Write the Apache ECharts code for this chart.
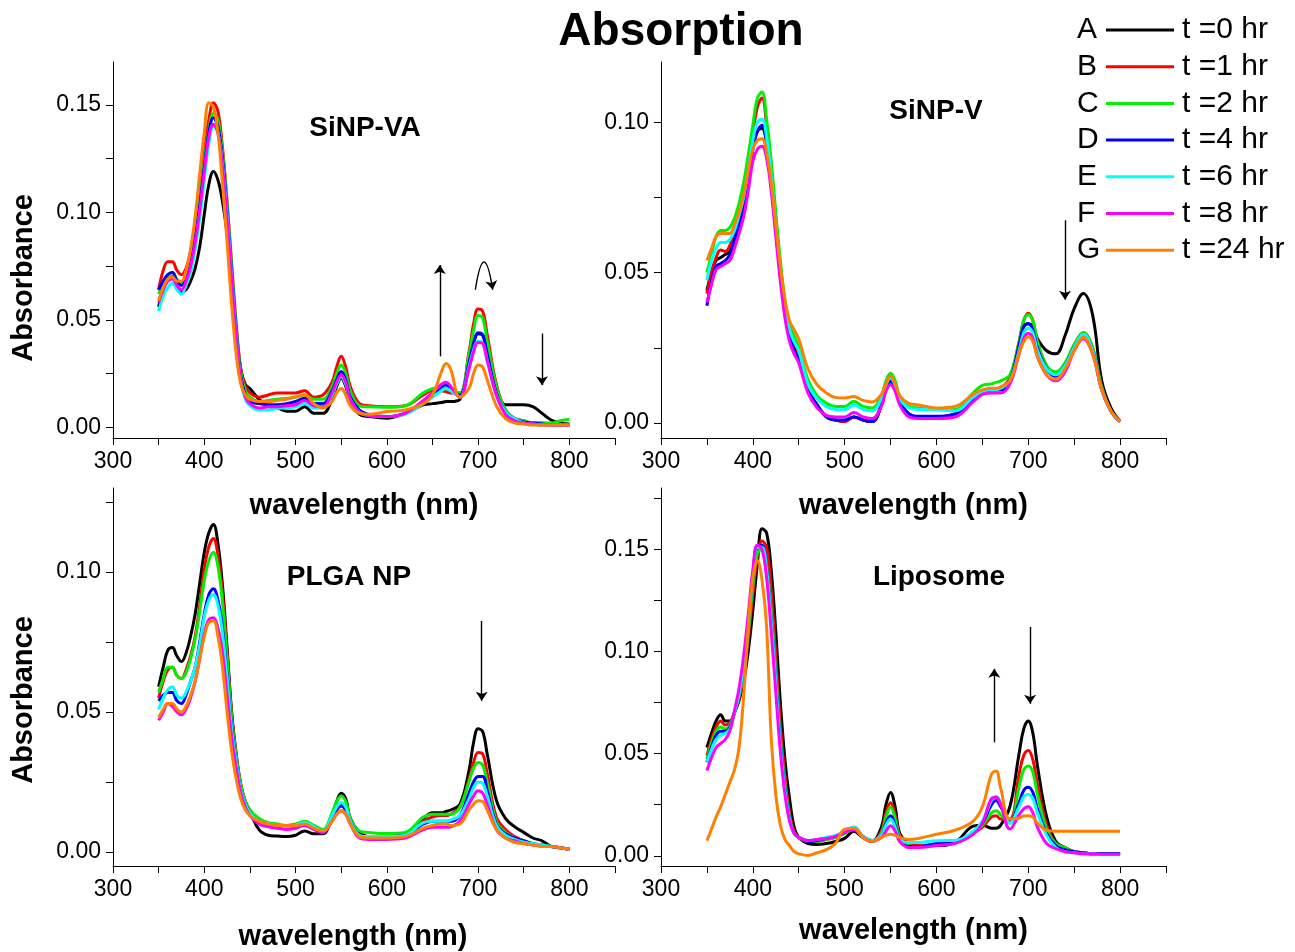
<!DOCTYPE html>
<html>
<head>
<meta charset="utf-8">
<script src="https://cdn.jsdelivr.net/npm/echarts@6/dist/echarts.min.js"></script>
<style>html,body{margin:0;padding:0;background:#fff}#c{width:1295px;height:952px}</style>
</head>
<body>
<div id="c"></div>
<script>
// ---------- data ----------
const WL = [350,355,360,365,370,375,380,385,390,395,400,405,410,415,420,425,430,435,440,445,450,460,470,480,490,500,510,520,530,540,545,550,555,560,570,580,600,620,640,650,660,665,670,680,690,695,700,705,710,720,730,740,750,760,770,780,790,800];

const NAMES = ['t =0 hr','t =1 hr','t =2 hr','t =4 hr','t =6 hr','t =8 hr','t =24 hr'];
const LETTERS = ['A','B','C','D','E','F','G'];
const PANEL_TITLES = ['SiNP-VA','SiNP-V','PLGA NP','Liposome'];

const X_TICKS = [300,350,400,450,500,550,600,650,700,750,800,850];
const X_LABELS = [300,400,500,600,700,800];
const Y_TICKS_1 = [0,0.025,0.05,0.075,0.1,0.125,0.15];
const Y_LABELS_1 = [0,0.05,0.1,0.15];
const Y_TICKS_2 = [0,0.025,0.05,0.075,0.1];
const Y_LABELS_2 = [0,0.05,0.1];
const Y_TICKS_3 = [0,0.025,0.05,0.075,0.1,0.125];
const Y_LABELS_3 = [0,0.05,0.1];
const Y_TICKS_4 = [0,0.025,0.05,0.075,0.1,0.125,0.15,0.175];
const Y_LABELS_4 = [0,0.05,0.1,0.15];

// Panel 1: SiNP-VA
const P1_A = [.056,.064,.069,.070,.066,.063,.064,.068,.074,.084,.099,.113,.119,.115,.105,.090,.068,.045,.027,.020,.018,.013,.010,.009,.0075,.0075,.0096,.0065,.0065,.013,.019,.0228,.019,.012,.006,.005,.0042,.0065,.0104,.011,.0115,.012,.012,.013,.030,.039,.0435,.043,.035,.018,.0105,.0105,.0105,.0096,.0065,.0034,.002,.0015];
const P1_B = [.064,.073,.077,.077,.073,.071,.074,.082,.094,.110,.128,.143,.151,.147,.130,.105,.076,.048,.027,.019,.016,.014,.015,.016,.016,.016,.017,.014,.015,.021,.028,.033,.028,.019,.011,.010,.0095,.010,.015,.017,.017,.0165,.016,.016,.035,.048,.055,.054,.043,.020,.008,.004,.003,.002,.002,.0015,.001,.001];
const P1_C = [.062,.067,.071,.072,.069,.067,.071,.079,.091,.106,.124,.138,.146,.143,.128,.104,.075,.047,.026,.017,.014,.012,.0125,.013,.0135,.014,.015,.013,.013,.019,.025,.029,.025,.017,.010,.0095,.0093,.010,.016,.018,.0185,.018,.017,.016,.034,.045,.052,.051,.040,.019,.008,.004,.003,.002,.002,.002,.003,.0037];
const P1_D = [.064,.068,.071,.072,.068,.066,.069,.076,.088,.103,.121,.137,.144,.140,.125,.101,.072,.045,.024,.015,.012,.011,.0105,.0105,.011,.012,.0135,.011,.011,.017,.022,.026,.022,.014,.008,.006,.005,.0065,.012,.015,.019,.0197,.018,.015,.030,.039,.044,.043,.034,.016,.007,.004,.0025,.002,.0015,.001,.001,.001];
const P1_E = [.054,.061,.065,.067,.064,.062,.066,.072,.083,.097,.115,.132,.140,.137,.122,.099,.070,.043,.022,.013,.010,.008,.008,.0088,.009,.0095,.011,.009,.009,.015,.020,.0235,.020,.013,.007,.0055,.005,.006,.011,.014,.017,.018,.017,.014,.028,.036,.040,.039,.031,.015,.007,.004,.002,.0015,.001,.001,.001,.001];
const P1_F = [.058,.064,.068,.069,.066,.064,.068,.075,.086,.101,.119,.135,.141,.137,.121,.097,.069,.042,.022,.014,.011,.009,.0095,.0096,.010,.0105,.0124,.010,.0095,.016,.021,.0243,.021,.013,.007,.0055,.005,.0065,.0125,.016,.020,.021,.019,.014,.027,.035,.0395,.039,.031,.015,.006,.003,.002,.0015,.001,.001,.001,.001];
const P1_G = [.059,.065,.069,.070,.068,.068,.073,.083,.098,.118,.137,.151,.149,.137,.113,.086,.057,.034,.020,.015,.013,.012,.012,.0125,.013,.0142,.015,.011,.009,.012,.016,.018,.015,.010,.0065,.006,.0073,.008,.011,.015,.026,.0297,.027,.014,.018,.025,.029,.028,.022,.010,.004,.002,.0015,.001,.001,.001,.001,.001];

// Panel 2: SiNP-V
const P2_A = [.044,.050,.054,.055,.056,.057,.061,.066,.072,.081,.091,.097,.098,.093,.081,.066,.051,.039,.031,.026,.022,.011,.006,.002,.001,.0005,.002,.001,.0005,.006,.0115,.0138,.0115,.007,.003,.002,.002,.003,.008,.0105,.011,.011,.011,.014,.026,.032,.033,.032,.028,.024,.023,.029,.038,.043,.036,.014,.005,.0005];
const P2_B = [.043,.050,.055,.0575,.057,.059,.063,.068,.075,.085,.096,.105,.108,.099,.085,.068,.052,.039,.031,.027,.023,.011,.006,.002,.001,.0005,.002,.001,.0005,.006,.012,.015,.012,.007,.003,.002,.002,.003,.008,.0105,.011,.011,.0115,.015,.027,.034,.0365,.034,.027,.019,.0165,.0195,.026,.030,.025,.012,.004,.0005];
const P2_C = [.050,.056,.062,.064,.064,.065,.068,.073,.080,.089,.099,.108,.110,.101,.087,.070,.054,.041,.033,.029,.025,.0145,.009,.0066,.0055,.0055,.0072,.0055,.005,.009,.014,.0165,.014,.009,.0055,.005,.0044,.0045,.010,.0125,.013,.0135,.014,.016,.027,.034,.036,.034,.027,.019,.017,.020,.026,.030,.025,.012,.004,.0005];
const P2_D = [.039,.047,.052,.053,.054,.056,.061,.066,.071,.080,.091,.097,.099,.093,.080,.064,.049,.037,.029,.024,.021,.011,.006,.002,.001,.001,.002,.001,.0005,.006,.0115,.0138,.0115,.007,.003,.0022,.0022,.003,.008,.0105,.011,.011,.011,.014,.026,.032,.033,.031,.025,.018,.0155,.019,.025,.029,.024,.011,.004,.0005];
const P2_E = [.0475,.054,.058,.060,.060,.061,.064,.069,.075,.084,.094,.100,.101,.095,.082,.066,.051,.039,.031,.027,.024,.013,.008,.0055,.0045,.0044,.006,.0045,.004,.008,.0125,.015,.0125,.008,.005,.0045,.0044,.004,.0085,.0105,.011,.011,.0115,.014,.024,.030,.0315,.030,.024,.018,.016,.019,.025,.0295,.024,.011,.004,.0005];
const P2_F = [.040,.046,.051,.052,.053,.054,.058,.063,.0685,.077,.087,.091,.092,.088,.077,.062,.047,.035,.027,.023,.020,.010,.005,.0025,.002,.002,.0035,.002,.0015,.0055,.0105,.0127,.0105,.006,.002,.0015,.0015,.002,.007,.0095,.010,.010,.010,.013,.023,.028,.0298,.028,.022,.016,.014,.017,.024,.028,.023,.011,.004,.0005];
const P2_G = [.054,.058,.062,.063,.063,.063,.066,.070,.076,.084,.091,.094,.0945,.090,.080,.066,.052,.041,.034,.031,.028,.018,.0127,.010,.0085,.0083,.0088,.0075,.007,.0095,.013,.0155,.013,.009,.0065,.006,.005,.0055,.0095,.011,.0115,.0115,.012,.014,.023,.027,.0287,.027,.022,.016,.0145,.018,.024,.0285,.023,.011,.004,.0005];

// Panel 3: PLGA NP
const P3_A = [.059,.066,.072,.073,.070,.068,.071,.077,.085,.096,.107,.114,.117,.110,.095,.073,.050,.035,.024,.018,.0145,.008,.006,.0057,.0055,.006,.0075,.0065,.0065,.013,.018,.021,.019,.012,.007,.0055,.0055,.0065,.012,.014,.014,.0145,.015,.017,.029,.039,.044,.043,.035,.0185,.012,.009,.007,.005,.004,.002,.0015,.001];
const P3_B = [.055,.061,.065,.066,.063,.062,.065,.070,.077,.088,.101,.109,.112,.106,.092,.071,.049,.034,.024,.018,.015,.011,.010,.0095,.009,.0095,.0105,.009,.0075,.012,.0155,.0165,.015,.011,.006,.0055,.0055,.006,.011,.0125,.013,.013,.0135,.016,.026,.032,.0355,.035,.028,.0125,.008,.0055,.004,.003,.0025,.002,.0015,.001];
const P3_C = [.057,.062,.066,.066,.063,.062,.064,.069,.076,.086,.097,.104,.107,.102,.089,.069,.048,.034,.024,.018,.015,.012,.0105,.010,.0095,.010,.011,.0095,.008,.014,.018,.020,.018,.012,.0075,.007,.0066,.007,.0125,.0135,.0135,.0135,.0135,.016,.025,.030,.032,.031,.025,.011,.007,.005,.004,.003,.0025,.002,.0015,.001];
const P3_D = [.054,.056,.057,.057,.054,.053,.056,.061,.066,.075,.085,.092,.094,.090,.080,.063,.045,.032,.022,.017,.014,.011,.0095,.009,.0085,.009,.010,.0085,.007,.012,.015,.0165,.015,.011,.006,.0055,.0055,.006,.010,.011,.011,.011,.011,.013,.021,.025,.027,.027,.022,.010,.0065,.005,.004,.003,.0025,.002,.0015,.001];
const P3_E = [.051,.055,.058,.059,.056,.055,.057,.061,.066,.074,.084,.090,.092,.088,.078,.062,.044,.032,.022,.017,.014,.011,.010,.0095,.009,.0095,.0105,.009,.0075,.013,.016,.0177,.016,.011,.006,.0055,.0055,.006,.0105,.011,.011,.011,.0115,.013,.019,.023,.025,.0245,.020,.0095,.006,.0045,.0035,.003,.0025,.002,.0015,.001];
const P3_F = [.047,.050,.053,.052,.050,.049,.051,.055,.061,.069,.078,.083,.0837,.080,.071,.056,.041,.030,.021,.016,.013,.010,.009,.0085,.008,.0085,.0095,.008,.007,.011,.0135,.0147,.0135,.010,.005,.0045,.0045,.005,.008,.0088,.0088,.0088,.009,.011,.017,.020,.0219,.021,.017,.008,.005,.004,.003,.0025,.002,.002,.0015,.001];
const P3_G = [.048,.051,.053,.053,.051,.050,.052,.056,.061,.069,.077,.082,.0825,.077,.066,.050,.036,.026,.019,.015,.013,.011,.010,.0095,.0095,.0095,.010,.0085,.0075,.011,.0135,.0147,.0135,.010,.0055,.005,.005,.0055,.0085,.0095,.010,.010,.0095,.010,.015,.017,.0183,.018,.015,.008,.005,.0035,.003,.0025,.002,.002,.0015,.001];

// Panel 4: Liposome
const P4_A = [.053,.060,.066,.069,.066,.066,.070,.076,.085,.100,.120,.143,.160,.158,.140,.110,.075,.047,.028,.014,.009,.006,.0055,.006,.007,.0085,.012,.009,.007,.014,.025,.031,.024,.011,.006,.005,.005,.0065,.0145,.015,.0135,.0135,.015,.024,.050,.062,.066,.060,.044,.019,.007,.004,.002,.0015,.001,.001,.001,.001];
const P4_B = [.049,.057,.063,.066,.064,.065,.070,.077,.088,.106,.128,.147,.154,.151,.130,.098,.064,.039,.021,.012,.009,.007,.007,.008,.009,.011,.013,.009,.007,.012,.021,.026,.020,.010,.006,.005,.0055,.0065,.011,.014,.019,.0196,.018,.018,.040,.049,.0515,.047,.035,.015,.006,.004,.002,.0015,.001,.001,.001,.001];
const P4_C = [.0474,.055,.061,.063,.062,.064,.070,.078,.090,.109,.132,.148,.150,.142,.120,.090,.058,.035,.019,.011,.009,.007,.007,.008,.009,.011,.013,.009,.007,.011,.019,.0237,.018,.009,.005,.0045,.0055,.0065,.011,.015,.021,.022,.020,.016,.034,.042,.044,.041,.030,.013,.006,.004,.002,.0015,.001,.001,.001,.001];
const P4_D = [.0458,.053,.059,.061,.061,.063,.070,.079,.093,.113,.136,.152,.152,.141,.116,.086,.055,.033,.018,.011,.009,.007,.0075,.0085,.0095,.0115,.014,.0095,.0075,.010,.016,.0196,.015,.008,.0045,.0045,.006,.007,.011,.016,.025,.027,.024,.0165,.026,.032,.0335,.031,.023,.011,.005,.003,.002,.0015,.001,.001,.001,.001];
const P4_E = [.046,.052,.057,.059,.060,.062,.070,.079,.093,.113,.136,.151,.151,.140,.115,.085,.054,.032,.018,.011,.009,.0075,.008,.009,.010,.012,.014,.0095,.0075,.010,.015,.018,.014,.008,.0065,.0065,.0074,.0075,.012,.017,.027,.029,.026,.016,.024,.029,.030,.028,.021,.010,.004,.002,.0015,.001,.001,.0005,.0005,.0005];
const P4_F = [.0417,.048,.053,.055,.057,.061,.071,.082,.098,.118,.140,.152,.150,.136,.110,.080,.051,.030,.017,.011,.009,.0075,.008,.0085,.0095,.0115,.013,.009,.007,.009,.012,.0147,.012,.007,.004,.004,.005,.006,.0105,.016,.028,.0286,.025,.0131,.020,.023,.024,.021,.014,.006,.0035,.002,.0015,.001,.001,.0008,.0008,.0008];
const P4_G = [.0074,.013,.019,.024,.030,.036,.042,.053,.078,.112,.136,.1445,.135,.112,.058,.030,.015,.008,.005,.002,.001,.0002,.0015,.003,.006,.013,.0135,.009,.007,.009,.010,.0106,.010,.009,.008,.0085,.0105,.0125,.017,.024,.040,.0415,.033,.018,.0185,.0195,.0196,.019,.016,.0125,.012,.012,.012,.012,.012,.012,.012,.012];

// annotation arrows [from, to]
const ARROWS_1 = [[[658,0.033],[658,0.0755]],[[770,0.0436],[770,0.0196]]];
const CURVED_ARROW_1 = [[697,0.064],[716,0.064]];
const ARROWS_2 = [[[740,0.0674],[740,0.041]]];
const ARROWS_3 = [[[704,0.0825],[704,0.054]]];
const ARROWS_4 = [[[663,0.0555],[663,0.0915]],[[702,0.112],[702,0.0744]]];

// ---------- chart ----------
const COLORS = ['#000000','#ff0000','#00f000','#0000ff','#00ffff','#ff00ff','#ff8000'];
const FONT = '"Liberation Sans", Arial, Helvetica, sans-serif';
const PANELS = [
  [P1_A,P1_B,P1_C,P1_D,P1_E,P1_F,P1_G],
  [P2_A,P2_B,P2_C,P2_D,P2_E,P2_F,P2_G],
  [P3_A,P3_B,P3_C,P3_D,P3_E,P3_F,P3_G],
  [P4_A,P4_B,P4_C,P4_D,P4_E,P4_F,P4_G]
];
const ARROWS = [ARROWS_1, ARROWS_2, ARROWS_3, ARROWS_4];
const Y_TICKS = [Y_TICKS_1, Y_TICKS_2, Y_TICKS_3, Y_TICKS_4];
const Y_LABELS = [Y_LABELS_1, Y_LABELS_2, Y_LABELS_3, Y_LABELS_4];
const Y_MAX = [0.17, 0.12, 0.13, 0.18];

const grids = [
  {left:113, top:62, width:502, height:376},
  {left:661, top:62, width:505, height:376},
  {left:113, top:488, width:502, height:378},
  {left:661, top:488, width:505, height:378}
].map(g => Object.assign({outerBoundsMode:'none', containLabel:false}, g));

const xNameGap = [53, 53, 56, 50];
const xNamePad = [[0,0,0,0],[0,0,0,0],[0,22,0,0],[0,0,0,0]];

const axisCommon = {
  axisLine:{show:true, onZero:false, lineStyle:{color:'#000', width:1}},
  splitLine:{show:false}
};

const xAxes = [0,1,2,3].map(p => Object.assign({}, axisCommon, {
  type:'value', gridIndex:p, min:300, max:850,
  axisTick:{show:true, inside:false, length:7, customValues:X_TICKS, lineStyle:{color:'#000'}},
  axisLabel:{show:true, customValues:X_LABELS, fontSize:23, fontFamily:FONT, color:'#000', margin:12},
  name:'wavelength (nm)', nameLocation:'middle', nameGap:xNameGap[p],
  nameTextStyle:{fontSize:29, fontWeight:'bold', fontFamily:FONT, color:'#000', lineHeight:29, padding:xNamePad[p]}
}));

const yAxes = [0,1,2,3].map(p => {
  const ax = Object.assign({}, axisCommon, {
    type:'value', gridIndex:p, min:-0.005, max:Y_MAX[p],
    axisTick:{show:true, inside:false, length:7, customValues:Y_TICKS[p], lineStyle:{color:'#000'}},
    axisLabel:{show:true, customValues:Y_LABELS[p], fontSize:23, fontFamily:FONT, color:'#000', margin:12,
      formatter: v => Number(v).toFixed(2)}
  });
  if (p === 0 || p === 2) {
    ax.name = 'Absorbance';
    ax.nameLocation = 'middle';
    ax.nameRotate = 90;
    ax.nameGap = 75;
    ax.nameTextStyle = {fontSize:29, fontWeight:'bold', fontFamily:FONT, color:'#000', lineHeight:29,
      padding: p === 0 ? [0,56,0,0] : [0,46,0,0]};
  }
  return ax;
});

function arrowMark(list) {
  return {
    silent:true, animation:false, symbol:['none','arrow'], symbolSize:9,
    label:{show:false}, emphasis:{disabled:true},
    lineStyle:{color:'#000', width:1.4, type:'solid'},
    data: list.map(a => [{coord:a[0]}, {coord:a[1]}])
  };
}

const series = [];
PANELS.forEach((arrs, p) => {
  arrs.forEach((arr, s) => {
    const ser = {
      type:'line', name:NAMES[s], xAxisIndex:p, yAxisIndex:p,
      data: WL.map((w, i) => [w, arr[i]]),
      showSymbol:false, symbol:'none', smooth:0.4,
      lineStyle:{width:3, color:COLORS[s]}, itemStyle:{color:COLORS[s]},
      emphasis:{disabled:true}, silent:true, z:2+s, animation:false
    };
    if (s === arrs.length - 1) ser.markLine = arrowMark(ARROWS[p]);
    series.push(ser);
  });
});
// curved arrow in SiNP-VA panel
series.push({
  type:'lines', coordinateSystem:'cartesian2d', xAxisIndex:0, yAxisIndex:0,
  polyline:false, silent:true, animation:false, z:20,
  symbol:['none','arrow'], symbolSize:9,
  lineStyle:{color:'#000', width:1.4, opacity:1, curveness:3.2},
  data:[{coords:CURVED_ARROW_1}]
});

const panelTitlePos = [[365,114],[936,97],[349,563],[939,563]];
const titles = [{
  text:'Absorption', left:681, top:9, textAlign:'center', padding:0,
  textStyle:{fontSize:46, fontWeight:'bold', fontFamily:FONT, color:'#000', lineHeight:46}
}].concat(PANEL_TITLES.map((t, i) => ({
  text:t, left:panelTitlePos[i][0], top:panelTitlePos[i][1], textAlign:'center', padding:0,
  textStyle:{fontSize:28, fontWeight:'bold', fontFamily:FONT, color:'#000', lineHeight:28}
})));

const letterGraphics = LETTERS.map((L, i) => ({
  type:'text', x:1077, y:30 + i*36.7, silent:true,
  style:{text:L, fontSize:30, fontFamily:FONT, fill:'#000', align:'left', verticalAlign:'middle'}
}));

const chart = echarts.init(document.getElementById('c'), null, {renderer:'canvas'});
chart.setOption({
  backgroundColor:'#fff',
  animation:false,
  title:titles,
  legend:{
    data:NAMES, orient:'vertical', left:1106, top:15, padding:0,
    icon:'rect', itemWidth:68, itemHeight:3, itemGap:6.7,
    selectedMode:false,
    textStyle:{fontSize:30, fontFamily:FONT, color:'#000', lineHeight:30, padding:[0,0,0,3]}
  },
  grid:grids,
  xAxis:xAxes,
  yAxis:yAxes,
  graphic:letterGraphics,
  series:series
});
</script>
</body>
</html>
